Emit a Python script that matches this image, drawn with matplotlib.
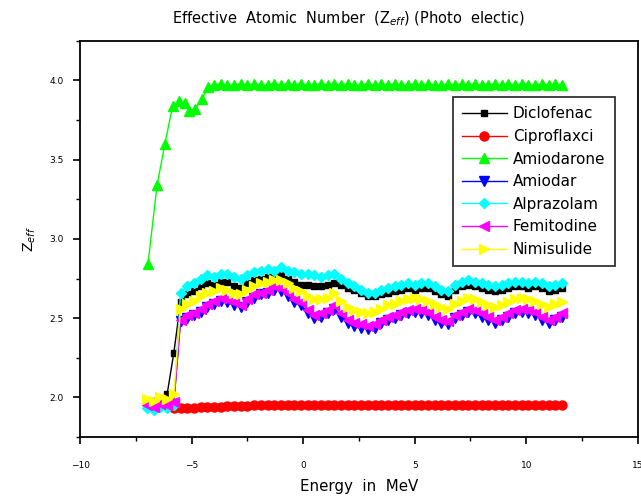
import numpy as np
import matplotlib
matplotlib.use('Agg')
import matplotlib.pyplot as plt
from matplotlib.ticker import MultipleLocator

# energy grid shared by most series (MeV)
energy = [-7.0, -6.7, -6.4, -6.1, -5.8, -5.5, -5.2, -4.9, -4.6, -4.3,
          -4.0, -3.7, -3.4, -3.1, -2.8, -2.5, -2.2, -1.9, -1.6, -1.3,
          -1.0, -0.7, -0.4, -0.1, 0.2, 0.5, 0.8, 1.1, 1.4, 1.7,
          2.0, 2.3, 2.6, 2.9, 3.2, 3.5, 3.8, 4.1, 4.4, 4.7,
          5.0, 5.3, 5.6, 5.9, 6.2, 6.5, 6.8, 7.1, 7.4, 7.7,
          8.0, 8.3, 8.6, 8.9, 9.2, 9.5, 9.8, 10.1, 10.4, 10.7,
          11.0, 11.3, 11.6]

diclofenac = [1.97, 1.98, 1.99, 2.02, 2.28, 2.60, 2.65, 2.67, 2.70, 2.72,
              2.71, 2.73, 2.73, 2.70, 2.69, 2.72, 2.74, 2.75, 2.76, 2.76,
              2.77, 2.75, 2.73, 2.71, 2.71, 2.70, 2.70, 2.71, 2.72, 2.71,
              2.69, 2.68, 2.66, 2.64, 2.64, 2.65, 2.66, 2.67, 2.68, 2.69,
              2.68, 2.69, 2.69, 2.67, 2.65, 2.64, 2.68, 2.70, 2.71, 2.70,
              2.69, 2.68, 2.67, 2.68, 2.69, 2.70, 2.70, 2.69, 2.70, 2.69,
              2.67, 2.68, 2.69]

ciproflaxci = [np.nan, np.nan, np.nan, np.nan,
               1.93, 1.93, 1.935, 1.935, 1.94, 1.94, 1.94, 1.94, 1.945, 1.945,
               1.945, 1.945, 1.95, 1.95, 1.95, 1.95, 1.95, 1.95, 1.955, 1.955,
               1.955, 1.955, 1.955, 1.955, 1.955, 1.955, 1.955, 1.955, 1.955, 1.955,
               1.95, 1.95, 1.95, 1.95, 1.95, 1.95, 1.95, 1.95, 1.95, 1.95,
               1.95, 1.95, 1.95, 1.95, 1.95, 1.95, 1.95, 1.95, 1.95, 1.95,
               1.95, 1.95, 1.95, 1.95, 1.95, 1.95, 1.95, 1.95, 1.95]

# amiodarone has its own early points
energy_amio_start = [-6.96, -6.55, -6.2, -5.85, -5.55, -5.3, -5.1, -4.85, -4.55, -4.25]
amiodarone_start = [2.84, 3.34, 3.60, 3.84, 3.87, 3.86, 3.81, 3.82, 3.88, 3.96]
amiodarone_rest = [3.97, 3.98, 3.97, 3.97, 3.98, 3.97, 3.98, 3.97, 3.97, 3.98,
                   3.97, 3.98, 3.97, 3.98, 3.97, 3.97, 3.98, 3.97, 3.98, 3.97,
                   3.98, 3.97, 3.97, 3.98, 3.97, 3.98, 3.97, 3.98, 3.97, 3.97,
                   3.98, 3.97, 3.98, 3.97, 3.97, 3.98, 3.97, 3.98, 3.97, 3.98,
                   3.97, 3.97, 3.98, 3.97, 3.98, 3.97, 3.98, 3.97, 3.97, 3.98,
                   3.97, 3.98, 3.97]

amiodar = [1.94, 1.93, 1.95, 1.94, 1.96, 2.48, 2.50, 2.52, 2.54, 2.57,
           2.59, 2.61, 2.60, 2.58, 2.57, 2.60, 2.63, 2.65, 2.66, 2.68,
           2.67, 2.64, 2.60, 2.58, 2.53, 2.50, 2.51, 2.53, 2.56, 2.51,
           2.47, 2.45, 2.44, 2.43, 2.44, 2.47, 2.49, 2.50, 2.52, 2.53,
           2.54, 2.53, 2.52, 2.49, 2.47, 2.46, 2.50, 2.52, 2.54, 2.53,
           2.51, 2.49, 2.47, 2.49, 2.51, 2.53, 2.54, 2.53, 2.52, 2.49,
           2.47, 2.49, 2.51]

alprazolam = [1.93, 1.92, 1.94, 1.93, 1.95, 2.66, 2.70, 2.72, 2.75, 2.77,
              2.76, 2.78, 2.78, 2.76, 2.75, 2.77, 2.79, 2.80, 2.81, 2.80,
              2.82, 2.80, 2.79, 2.78, 2.78, 2.77, 2.76, 2.77, 2.78, 2.75,
              2.72, 2.70, 2.68, 2.66, 2.66, 2.68, 2.69, 2.70, 2.71, 2.72,
              2.71, 2.72, 2.72, 2.70, 2.68, 2.67, 2.71, 2.73, 2.74, 2.73,
              2.72, 2.71, 2.70, 2.71, 2.72, 2.73, 2.73, 2.72, 2.73, 2.72,
              2.70, 2.71, 2.72]

femitodine = [1.95, 1.94, 1.96, 1.95, 1.97, 2.49, 2.52, 2.53, 2.56, 2.59,
              2.61, 2.63, 2.62, 2.60, 2.58, 2.62, 2.65, 2.66, 2.68, 2.70,
              2.69, 2.66, 2.62, 2.60, 2.55, 2.52, 2.53, 2.55, 2.58, 2.53,
              2.49, 2.47, 2.46, 2.45, 2.46, 2.49, 2.51, 2.52, 2.54, 2.55,
              2.56, 2.55, 2.54, 2.51, 2.49, 2.48, 2.52, 2.54, 2.56, 2.55,
              2.53, 2.51, 2.49, 2.51, 2.53, 2.55, 2.56, 2.55, 2.54, 2.51,
              2.49, 2.51, 2.53]

nimisulide = [1.99, 1.98, 2.00, 1.99, 2.02, 2.56, 2.59, 2.61, 2.64, 2.66,
              2.67, 2.69, 2.68, 2.66, 2.65, 2.68, 2.70, 2.72, 2.73, 2.74,
              2.74, 2.72, 2.69, 2.67, 2.64, 2.62, 2.62, 2.63, 2.66, 2.61,
              2.57, 2.55, 2.54, 2.53, 2.54, 2.56, 2.58, 2.59, 2.61, 2.62,
              2.63, 2.62, 2.61, 2.59, 2.57, 2.56, 2.59, 2.61, 2.63, 2.62,
              2.60, 2.58, 2.57, 2.58, 2.60, 2.62, 2.63, 2.62, 2.61, 2.59,
              2.57, 2.59, 2.60]

energy_amio = energy_amio_start + energy[10:]
amiodarone = amiodarone_start + amiodarone_rest

fig = plt.figure(figsize=(6.41, 4.98), dpi=100)
ax = fig.add_axes([0.125, 0.1225, 0.87, 0.7955])

ms = 5.5
ax.plot(energy, diclofenac, color='black', marker='s', ms=ms - 0.5, lw=1, label='Diclofenac')
ax.plot(energy, ciproflaxci, color='#ff0000', marker='o', ms=ms + 1, lw=1, label='Ciproflaxci')
ax.plot(energy_amio, amiodarone, color='#00ff00', marker='^', ms=ms + 1, lw=1, label='Amiodarone')
ax.plot(energy, amiodar, color='#0000ff', marker='v', ms=ms + 1, lw=1, label='Amiodar')
ax.plot(energy, alprazolam, color='#00ffff', marker='D', ms=ms, lw=1, label='Alprazolam')
ax.plot(energy, femitodine, color='#ff00ff', marker='<', ms=ms + 1, lw=1, label='Femitodine')
ax.plot(energy, nimisulide, color='#ffff00', marker='>', ms=ms + 1, lw=1, label='Nimisulide')

ax.set_xlim(-10, 15)
ax.set_ylim(1.75, 4.25)
ax.xaxis.set_major_locator(MultipleLocator(5))
ax.xaxis.set_minor_locator(MultipleLocator(2.5))
ax.yaxis.set_major_locator(MultipleLocator(0.5))
ax.yaxis.set_minor_locator(MultipleLocator(0.25))
ax.tick_params(which='major', direction='out', length=5, width=1.2, labelsize=6.5)
ax.tick_params(axis='x', which='major', pad=12)
ax.tick_params(axis='y', which='major', pad=7)
ax.tick_params(which='minor', direction='out', length=3, width=1.0)
for sp in ax.spines.values():
    sp.set_linewidth(1.3)

fig.text(0.543, 0.963, r'Effective  Atomic  Number  (Z$_{eff}$) (Photo  electic)',
         fontsize=10.5, ha='center', va='center')
ax.set_xlabel('Energy  in  MeV', fontsize=10.8, labelpad=7)
ax.set_ylabel(r'Z$_{eff}$', fontsize=10, labelpad=8)

leg = ax.legend(loc='upper left', bbox_to_anchor=(0.668, 0.858), fontsize=11,
                handlelength=2.95, handletextpad=0.4, labelspacing=0.5,
                fancybox=False, framealpha=1, edgecolor='#333333',
                borderpad=0.6, borderaxespad=0)
leg.get_frame().set_linewidth(1.3)

fig.savefig('out.png', dpi=100)
